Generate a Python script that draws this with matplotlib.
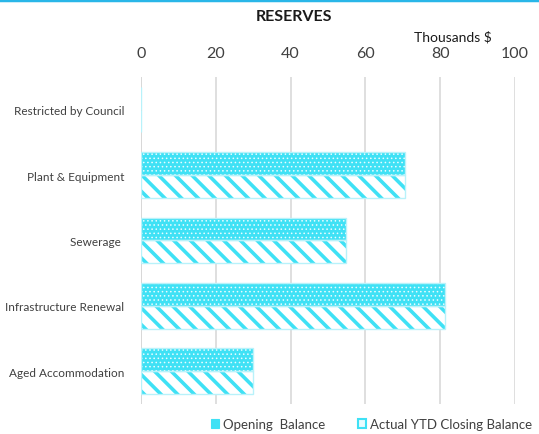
import matplotlib
matplotlib.use("Agg")
import matplotlib.pyplot as plt
import numpy as np
from matplotlib.patches import Patch
from matplotlib.lines import Line2D

categories = ["Restricted by Council", "Plant & Equipment", "Sewerage ", "Infrastructure Renewal", "Aged Accommodation"]
opening = [0, 70.7, 54.8, 81.3, 30.0]
closing = [0, 70.7, 54.8, 81.3, 30.0]
xticks = [0, 20, 40, 60, 80, 100]

plt.rcParams['font.family'] = ['Lato', 'DejaVu Sans']

cyan = "#3FE1F5"
fig = plt.figure(figsize=(5.39, 4.35), dpi=100)
ax = fig.add_axes([0.2616, 0.069, 0.694, 0.752])

y = np.arange(len(categories))
h = 0.35
# Opening balance: cyan with small white dots
with plt.rc_context({'hatch.linewidth': 0.6}):
    ax.barh(y - h/2, opening, height=h, color=cyan, edgecolor="#E8FCFF", hatch="....", linewidth=0, zorder=3)
ax.barh(y - h/2, opening, height=h, facecolor="none", edgecolor="#B8F2FA", linewidth=1, zorder=4)
# Closing balance: white with cyan diagonal hatch
with plt.rc_context({'hatch.linewidth': 2.6}):
    ax.barh(y + h/2, closing, height=h, color="white", edgecolor=cyan, hatch="\\\\", linewidth=0, zorder=3)
ax.barh(y + h/2, closing, height=h, facecolor="none", edgecolor="#B8F2FA", linewidth=1, zorder=4)

ax.set_xlim(0, 100)
ax.set_ylim(4.5, -0.5)
ax.set_xticks(xticks)
ax.set_xticklabels([str(t) for t in xticks], fontsize=11.5, color="#404040")
ax.xaxis.tick_top()
ax.tick_params(axis='x', length=0, pad=12)
ax.set_yticks(y)
ax.set_yticklabels(categories, fontsize=8.5, color="#404040")
ax.tick_params(axis='y', length=0, pad=12)
ax.grid(axis='x', color="#D9D9D9", linewidth=1.2, zorder=0)
for s in ax.spines.values():
    s.set_visible(False)
ax.axvline(0, color="#D0D0D0", linewidth=1.2, zorder=1)

fig.text(0.545, 0.962, "RESERVES", ha="center", va="center", fontsize=11.5, fontweight="bold", color="#1a1a1a")
fig.text(0.84, 0.915, "Thousands $", ha="center", va="center", fontsize=10, color="#1a1a1a")

# top border line
fig.add_artist(Line2D([0, 1], [0.998, 0.998], color="#29B6E8", linewidth=2.5, transform=fig.transFigure))

with plt.rc_context({'hatch.linewidth': 1.0}):
    handles = [Patch(facecolor=cyan, edgecolor="#3FE1F5", linewidth=0.8),
               Patch(facecolor="#E8FCFF", edgecolor=cyan, linewidth=1.5)]
fig.legend(handles, ["Opening  Balance", "Actual YTD Closing Balance"], loc="center",
           bbox_to_anchor=(0.69, 0.023), ncol=2, frameon=False, fontsize=9.5,
           handlelength=0.6, handleheight=0.6, handletextpad=0.3, columnspacing=2.5,
           labelcolor="#404040")

fig.savefig("out.png", dpi=100)
